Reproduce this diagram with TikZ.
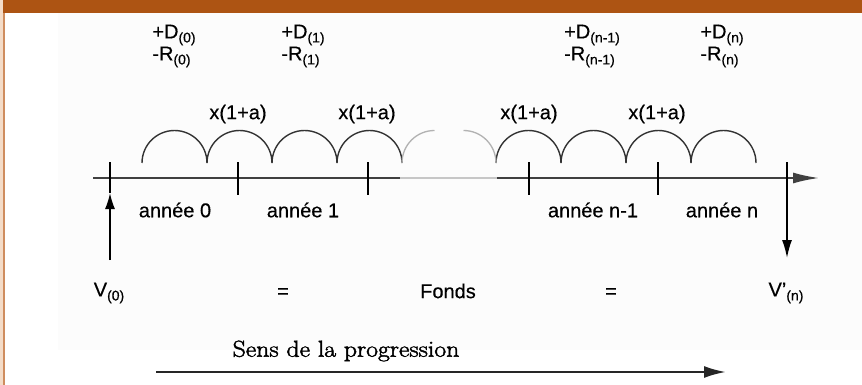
\documentclass[tikz,border=0pt]{standalone}
\usepackage{fontspec}
\setsansfont{Liberation Sans}[FakeBold=0.4]
\newfontfamily\sensfont{Latin Modern Roman}[FakeStretch=1.12, FakeBold=2]
\usetikzlibrary{arrows.meta}
\definecolor{bandbrown}{HTML}{AD5413}
\definecolor{edgetan}{HTML}{CF8D5E}
\definecolor{edgepeach}{HTML}{F4DCC8}
\newcommand{\idx}[1]{\raisebox{-0.2em}{\fontsize{14}{14}\selectfont #1}}

\begin{document}
\begin{tikzpicture}[x=1pt, y=-1pt, >={Latex[length=16pt,width=10pt]},
  every node/.style={inner sep=0pt},
  lbl/.style={font=\sffamily\fontsize{20}{22}\selectfont},
  curve/.style={line width=1.4pt, black!80},
  faded/.style={line width=1.3pt, black!30},
  tick/.style={line width=1.2pt}]
  % frame
  \useasboundingbox (0,0) rectangle (862,385);
  \fill[white] (0,0) rectangle (862,385);
  \fill[black!1] (58,13) rectangle (862,350);
  \fill[bandbrown] (3,0) rectangle (862,13);
  \fill[edgepeach] (0,0) rectangle (3,385);
  \fill[edgetan] (3,13) rectangle (5,385);

  % labels above
  \foreach \x/\n/\t in {174/0/(0), 303/1/(1), 592/2/(n-1), 722/3/(n)}
    \node[lbl, align=left] (dr\n) at (\x,46) {+D\idx{\t}\\-R\idx{\t}};
  \foreach \x/\n in {238/1, 367/2, 529/3, 657/4}
    \node[lbl] (g\n) at (\x,114) {x(1+a)};

  % arcs
  \foreach \x in {142,207,272,337,496,561,626,691}
    \draw[curve] (\x,163) arc[start angle=180, end angle=0, radius=32.5pt];
  \draw[faded] (402,163) arc[start angle=180, end angle=90, radius=32.5pt];
  \draw[faded] (496,163) arc[start angle=0, end angle=90, radius=32.5pt];

  % axis
  \coordinate (axL) at (93,178);
  \coordinate (fadeA) at (400,178);
  \coordinate (fadeB) at (497,178);
  \coordinate (axR) at (819,178);
  \draw[line width=1.8pt, black!75] (axL) -- (fadeA);
  \draw[line width=1.5pt, black!22] (fadeA) -- (fadeB);
  \draw[line width=1.8pt, black!75, ->, >={Latex[length=26pt,width=11pt]}] (fadeB) -- (axR);
  \foreach \x in {238,368,529,658}
    \draw[tick] (\x,162) -- (\x,195);

  % years
  \node[lbl] (y0) at (175,210) {année 0};
  \node[lbl] (y1) at (303,210) {année 1};
  \node[lbl] (y2) at (593,210) {année n-1};
  \node[lbl] (y3) at (722,210) {année n};

  % values
  \node[lbl] (v0) at (109,293) {V\idx{(0)}};
  \node[lbl] (eqA) at (283,293) {=};
  \node[lbl] (fonds) at (448,291) {Fonds};
  \node[lbl] (eqB) at (611,293) {=};
  \node[lbl] (vn) at (786,293) {V'\idx{(n)}};
  \coordinate (v0foot) at (110,260);
  \coordinate (v0top) at (110,162);
  \coordinate (v0tip) at (110,193);
  \coordinate (vntop) at (787,162);
  \coordinate (vntip) at (787,258);
  \draw[tick] (v0top) -- (v0tip);
  \draw[line width=1.6pt, ->] (v0foot) -- (v0tip);
  \draw[line width=1.6pt, ->, >={Latex[length=18pt,width=10pt]}] (vntop) -- (vntip);

  % direction
  \node[font=\sensfont\fontsize{23}{26}\selectfont] (sens) at (346,351) {Sens de la progression};
  \coordinate (progA) at (156,372);
  \coordinate (progB) at (726,372);
  \draw[line width=2.4pt, black!85, ->, >={Latex[length=22pt,width=12pt]}] (progA) -- (progB);
\end{tikzpicture}
\end{document}
